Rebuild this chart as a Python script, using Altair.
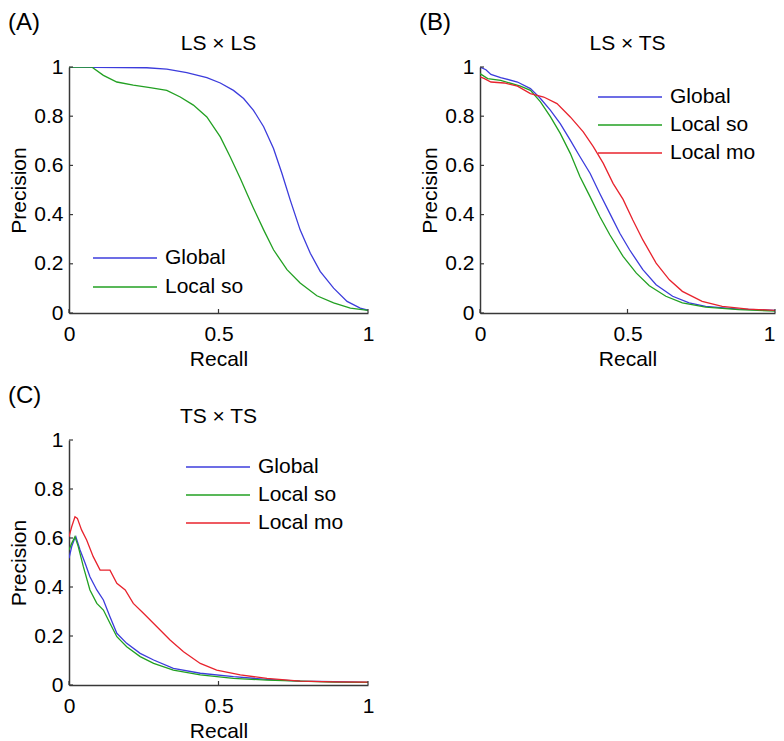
import altair as alt
import pandas as pd

# ---------------- data ----------------
X_TICKS = [0, 0.5, 1]
Y_TICKS = [0, 0.2, 0.4, 0.6, 0.8, 1]

SERIES_3 = ["Global", "Local so", "Local mo"]
SERIES_2 = ["Global", "Local so"]

# (A) LS x LS
A_GLOBAL_R = [0, 0.26, 0.327, 0.394, 0.461, 0.506, 0.55, 0.584, 0.617, 0.651, 0.684, 0.712,
              0.74, 0.773, 0.807, 0.84, 0.885, 0.93, 0.974, 1.0]
A_GLOBAL_P = [1.0, 0.997, 0.991, 0.977, 0.957, 0.935, 0.905, 0.872, 0.824, 0.757, 0.669, 0.568,
              0.459, 0.338, 0.243, 0.169, 0.101, 0.047, 0.02, 0.011]
A_SO_R = [0, 0.076, 0.115, 0.16, 0.215, 0.271, 0.327, 0.372, 0.416, 0.461, 0.506, 0.539, 0.573,
          0.595, 0.617, 0.651, 0.684, 0.729, 0.773, 0.829, 0.885, 0.941, 1.0]
A_SO_P = [1.0, 1.0, 0.966, 0.939, 0.926, 0.916, 0.905, 0.878, 0.845, 0.797, 0.716, 0.635, 0.547,
          0.486, 0.426, 0.338, 0.257, 0.176, 0.122, 0.07, 0.041, 0.02, 0.011]

# (B) LS x TS
B_GLOBAL_R = [0, 0.02, 0.037, 0.07, 0.127, 0.171, 0.205, 0.239, 0.272, 0.306, 0.339, 0.373, 0.406,
              0.44, 0.474, 0.507, 0.552, 0.597, 0.653, 0.709, 0.765, 0.877, 1.0]
B_GLOBAL_P = [1.0, 0.989, 0.97, 0.957, 0.939, 0.912, 0.872, 0.824, 0.77, 0.703, 0.635, 0.568, 0.486,
              0.405, 0.324, 0.257, 0.176, 0.115, 0.068, 0.041, 0.027, 0.016, 0.011]
B_SO_R = [0, 0.026, 0.07, 0.137, 0.171, 0.205, 0.239, 0.272, 0.306, 0.339, 0.373, 0.406, 0.44,
          0.485, 0.53, 0.574, 0.63, 0.686, 0.765, 0.877, 1.0]
B_SO_P = [0.973, 0.953, 0.946, 0.922, 0.905, 0.858, 0.797, 0.73, 0.649, 0.554, 0.473, 0.392, 0.318,
          0.23, 0.162, 0.111, 0.068, 0.041, 0.024, 0.014, 0.008]
B_MO_R = [0, 0.015, 0.037, 0.082, 0.127, 0.171, 0.216, 0.261, 0.306, 0.35, 0.384, 0.418, 0.451,
          0.485, 0.518, 0.552, 0.597, 0.642, 0.686, 0.753, 0.821, 0.91, 1.0]
B_MO_P = [0.96, 0.953, 0.939, 0.935, 0.922, 0.892, 0.878, 0.851, 0.797, 0.736, 0.676, 0.608, 0.527,
          0.462, 0.378, 0.297, 0.203, 0.135, 0.088, 0.047, 0.027, 0.016, 0.011]

# (C) TS x TS
C_GLOBAL_R = [0, 0.009, 0.017, 0.023, 0.037, 0.054, 0.07, 0.093, 0.115, 0.137, 0.16, 0.193, 0.238,
              0.283, 0.349, 0.439, 0.55, 0.662, 0.773, 0.885, 1.0]
C_GLOBAL_P = [0.517, 0.565, 0.592, 0.605, 0.551, 0.497, 0.442, 0.388, 0.347, 0.279, 0.211, 0.17, 0.129,
              0.102, 0.068, 0.048, 0.034, 0.023, 0.016, 0.014, 0.011]
C_SO_R = [0, 0.009, 0.02, 0.031, 0.048, 0.07, 0.093, 0.115, 0.137, 0.16, 0.193, 0.238, 0.283, 0.349,
          0.439, 0.55, 0.662, 0.773, 0.885, 1.0]
C_SO_P = [0.551, 0.578, 0.605, 0.565, 0.483, 0.388, 0.333, 0.306, 0.252, 0.197, 0.156, 0.116, 0.088,
          0.061, 0.041, 0.027, 0.02, 0.016, 0.012, 0.011]
C_MO_R = [0, 0.009, 0.02, 0.028, 0.042, 0.059, 0.081, 0.104, 0.137, 0.16, 0.188, 0.215, 0.249, 0.294,
          0.338, 0.383, 0.439, 0.494, 0.573, 0.662, 0.773, 0.885, 1.0]
C_MO_P = [0.605, 0.646, 0.687, 0.68, 0.633, 0.592, 0.524, 0.469, 0.469, 0.415, 0.388, 0.333, 0.293,
          0.238, 0.184, 0.136, 0.088, 0.061, 0.041, 0.027, 0.016, 0.013, 0.012]

# ---------------- style ----------------
FONT = "Liberation Sans"
BLUE, GREEN, RED = "#3c3cdc", "#22a022", "#e8232d"
AXIS_COLOR = "#383838"


def series_df(pairs):
    rows = []
    for name, rs, ps in pairs:
        for i, (r, p) in enumerate(zip(rs, ps)):
            rows.append({"series": name, "recall": r, "precision": p, "i": i})
    return pd.DataFrame(rows)


def x_axis(last_right):
    kw = {}
    if last_right:
        kw["labelAlign"] = {"condition": {"test": "datum.value >= 1", "value": "right"},
                            "value": "center"}
    return alt.Axis(title="Recall", values=X_TICKS, format="~g", labelFlush=False,
                    ticks=False, grid=False, labelPadding=10, titlePadding=4, **kw)


def y_axis():
    return alt.Axis(title="Precision", values=Y_TICKS, format="~g", ticks=False,
                    grid=False, labelPadding=6, titlePadding=4)


def panel(letter, title, pairs, w, h, leg_x, leg_y, row_pad, domain, colors, last_right=False):
    df = series_df(pairs)
    xs = alt.Scale(domain=[0, 1], nice=False)
    ys = alt.Scale(domain=[0, 1], nice=False)
    lines = alt.Chart(df).mark_line(strokeWidth=1.3, clip=True).encode(
        x=alt.X("recall:Q", scale=xs, axis=x_axis(last_right)),
        y=alt.Y("precision:Q", scale=ys, axis=y_axis()),
        color=alt.Color("series:N", scale=alt.Scale(domain=domain, range=colors),
                        legend=alt.Legend(orient="none", legendX=leg_x, legendY=leg_y, title=None,
                                          symbolType="stroke", symbolSize=4096,
                                          symbolStrokeWidth=1.3, labelFont=FONT,
                                          labelFontSize=21, labelColor="black", labelOffset=7,
                                          padding=0, clipHeight=28, rowPadding=row_pad)),
        order="i:Q",
    )
    yt = alt.Chart(pd.DataFrame({"precision": Y_TICKS})).mark_rule(
        color=AXIS_COLOR, strokeWidth=1.2).encode(
        y=alt.Y("precision:Q", scale=ys, axis=y_axis()), x=alt.value(0), x2=alt.value(4))
    xt = alt.Chart(pd.DataFrame({"recall": X_TICKS})).mark_rule(
        color=AXIS_COLOR, strokeWidth=1.2).encode(
        x=alt.X("recall:Q", scale=xs, axis=x_axis(last_right)), y=alt.value(h), y2=alt.value(h - 4))
    lab = alt.Chart(pd.DataFrame({"lab": [letter]})).mark_text(
        align="left", baseline="top", fontSize=24, font=FONT, color="black").encode(
        text="lab:N", x=alt.value(-61), y=alt.value(-56))
    # invisible spacer that reserves the margin above the panel letter
    spacer = alt.Chart(pd.DataFrame({"lab": [letter]})).mark_rule(opacity=0).encode(
        x=alt.value(-50), y=alt.value(-59), y2=alt.value(-50))
    ttl = alt.Chart(pd.DataFrame({"ttl": [title]})).mark_text(
        align="center", baseline="alphabetic", fontSize=21, font=FONT, color="black").encode(
        text="ttl:N", x=alt.value(w / 2), y=alt.value(-17))
    return alt.layer(lines, yt, xt, lab, spacer, ttl).properties(width=w, height=h)


pa = panel("(A)", "LS × LS",
           [("Global", A_GLOBAL_R, A_GLOBAL_P), ("Local so", A_SO_R, A_SO_P)],
           299, 246, 23, 177, 1, SERIES_2, [BLUE, GREEN])
pb = panel("(B)", "LS × TS",
           [("Global", B_GLOBAL_R, B_GLOBAL_P), ("Local so", B_SO_R, B_SO_P),
            ("Local mo", B_MO_R, B_MO_P)],
           295, 246, 117, 16, 0, SERIES_3, [BLUE, GREEN, RED], last_right=True)
pc = panel("(C)", "TS × TS",
           [("Global", C_GLOBAL_R, C_GLOBAL_P), ("Local so", C_SO_R, C_SO_P),
            ("Local mo", C_MO_R, C_MO_P)],
           299, 245, 116, 13, 0, SERIES_3, [BLUE, GREEN, RED])

top = alt.hconcat(pa, pb, spacing=45).resolve_scale(color="independent")
chart = alt.vconcat(top, pc, spacing=12).resolve_scale(color="independent")

chart = chart.properties(padding=0).configure_view(stroke=None).configure_axis(
    domainColor=AXIS_COLOR, domainWidth=1.5, labelFont=FONT, labelFontSize=21,
    labelColor="black", titleFont=FONT, titleFontSize=21, titleFontWeight="normal",
    titleColor="black")

chart.save("out.html", embed_options={"renderer": "svg", "actions": False})
